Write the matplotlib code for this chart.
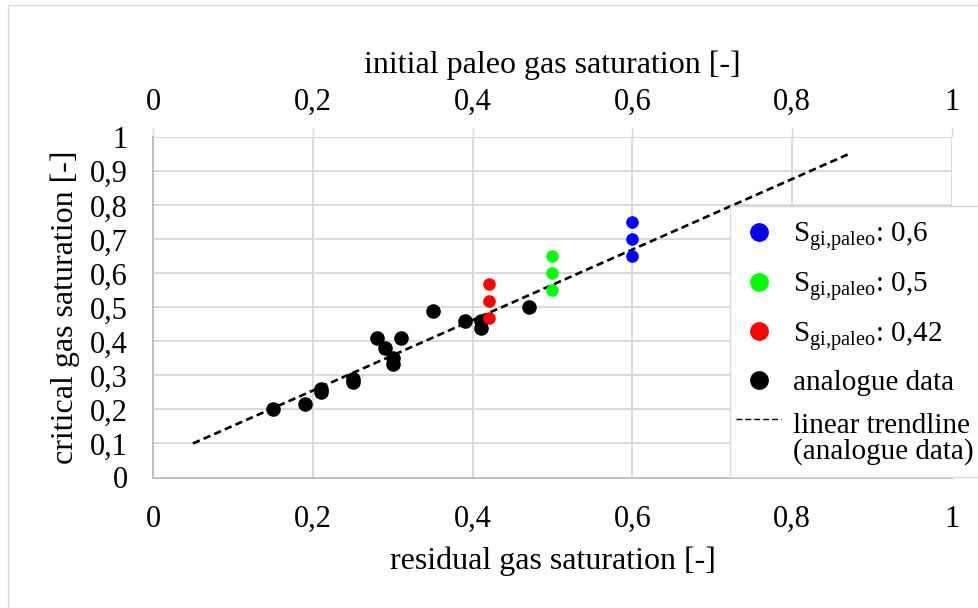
import matplotlib
matplotlib.use("Agg")
import numpy as np
import matplotlib.pyplot as plt
from matplotlib.lines import Line2D
from matplotlib.patches import Rectangle

plt.rcParams['font.family'] = ['Liberation Serif', 'DejaVu Serif']
plt.rcParams['mathtext.fontset'] = 'custom'
plt.rcParams['mathtext.rm'] = 'Liberation Serif'
plt.rcParams['mathtext.it'] = 'Liberation Serif:italic'

# ---- data ----
analogue_x = [0.15, 0.19, 0.21, 0.21, 0.25, 0.25, 0.28, 0.29, 0.30, 0.30, 0.31, 0.35, 0.39, 0.41, 0.41, 0.47]
analogue_y = [0.20, 0.215, 0.25, 0.26, 0.28, 0.29, 0.41, 0.38, 0.35, 0.335, 0.41, 0.49, 0.46, 0.46, 0.44, 0.50]

s06_x = [0.60, 0.60, 0.60]
s06_y = [0.75, 0.70, 0.65]
s05_x = [0.50, 0.50, 0.50]
s05_y = [0.65, 0.60, 0.55]
s042_x = [0.42, 0.42, 0.42]
s042_y = [0.57, 0.52, 0.47]

trend_x = [0.05, 0.87]
trend_y = [0.10, 0.95]

x_ticks = [0, 0.2, 0.4, 0.6, 0.8, 1]
x_ticklabels = ['0', '0,2', '0,4', '0,6', '0,8', '1']
y_ticks = [0, 0.1, 0.2, 0.3, 0.4, 0.5, 0.6, 0.7, 0.8, 0.9, 1]
y_ticklabels = ['0', '0,1', '0,2', '0,3', '0,4', '0,5', '0,6', '0,7', '0,8', '0,9', '1']

labels = [r'S$_{\mathregular{gi{,}paleo}}$: 0,6',
          r'S$_{\mathregular{gi{,}paleo}}$: 0,5',
          r'S$_{\mathregular{gi{,}paleo}}$: 0,42',
          'analogue data',
          'linear trendline\n(analogue data)']

TICK_FS = 22
TITLE_FS = 23
LEG_FS = 21

W, H = 979, 608
fig = plt.figure(figsize=(W / 100, H / 100), dpi=100)
fig.patch.set_facecolor('white')

# chart area border
fig.patches.append(Rectangle((8 / W, -0.05), 1.1, 1 - 5 / H + 0.05, transform=fig.transFigure,
                             fill=False, edgecolor='#d9d9d9', linewidth=1.0, zorder=0))

ax = fig.add_axes([153 / W, 1 - 477.5 / H, (952 - 153) / W, (477.5 - 137.3) / H])
ax.set_xlim(0, 1)
ax.set_ylim(0, 1)

grid_c = '#d9d9d9'
ax.set_axisbelow(True)
ax.grid(True, color=grid_c, linewidth=1.4)
for sp in ['top', 'right']:
    ax.spines[sp].set_visible(False)
for sp in ['left', 'bottom']:
    ax.spines[sp].set_color('#bfbfbf')
    ax.spines[sp].set_linewidth(1.4)

ax.set_xticks(x_ticks)
ax.set_xticklabels(x_ticklabels)
ax.set_yticks(y_ticks)
ax.set_yticklabels(y_ticklabels)
ax.tick_params(axis='both', length=0, labelsize=TICK_FS, colors='black')
ax.tick_params(axis='x', pad=20)
ax.tick_params(axis='y', pad=18)

ax.set_xlabel('residual gas saturation [-]', fontsize=TITLE_FS, labelpad=9)
ax.set_ylabel('critical gas saturation [-]', fontsize=TITLE_FS, labelpad=7)

top = ax.secondary_xaxis('top')
top.set_xticks(x_ticks)
top.set_xticklabels(x_ticklabels)
top.tick_params(axis='x', length=6.5, width=1.0, color=grid_c, labelsize=TICK_FS, pad=8)
top.spines['top'].set_visible(False)
top.set_xlabel('initial paleo gas saturation [-]', fontsize=TITLE_FS, labelpad=11)

ax.plot(trend_x, trend_y, color='black', linestyle=(0, (2.8, 1.6)), linewidth=1.9, zorder=2)
ax.scatter(analogue_x, analogue_y, s=110, color='black', zorder=3, linewidths=0)
ax.scatter(s042_x, s042_y, s=82, color='#ff0000', zorder=4, linewidths=0)
ax.scatter(s05_x, s05_y, s=82, color='#00ff00', zorder=4, linewidths=0)
ax.scatter(s06_x, s06_y, s=82, color='#0000ff', zorder=4, linewidths=0)

# legend frame (drawn separately, extends past the right edge)
fig.patches.append(Rectangle((730 / W, 1 - 477 / H), 0.5, (477 - 206) / H, transform=fig.transFigure,
                             facecolor='white', edgecolor='#d9d9d9', linewidth=1.0, zorder=4))

handles = [
    Line2D([], [], linestyle='none', marker='o', markersize=12.5, color='#0000ff'),
    Line2D([], [], linestyle='none', marker='o', markersize=12.5, color='#00ff00'),
    Line2D([], [], linestyle='none', marker='o', markersize=12.5, color='#ff0000'),
    Line2D([], [], linestyle='none', marker='o', markersize=12.5, color='black'),
    Line2D([], [], linestyle=(0, (4.3, 2.1)), linewidth=1.0, color='black'),
]
leg = fig.legend(handles, labels, loc='upper left',
                 bbox_to_anchor=(736 / W, 1 - 220 / H),
                 bbox_transform=fig.transFigure,
                 fontsize=LEG_FS, frameon=False,
                 handlelength=1.55, handletextpad=0.4,
                 labelspacing=0.58, borderpad=0, borderaxespad=0)
leg.set_zorder(5)
leg.get_texts()[-1].set_linespacing(0.95)
trend_handle = leg.legend_handles[-1]
trend_handle.set_ydata(np.asarray(trend_handle.get_ydata(), dtype=float) + 14.0)

fig.savefig('out.png', dpi=100)
